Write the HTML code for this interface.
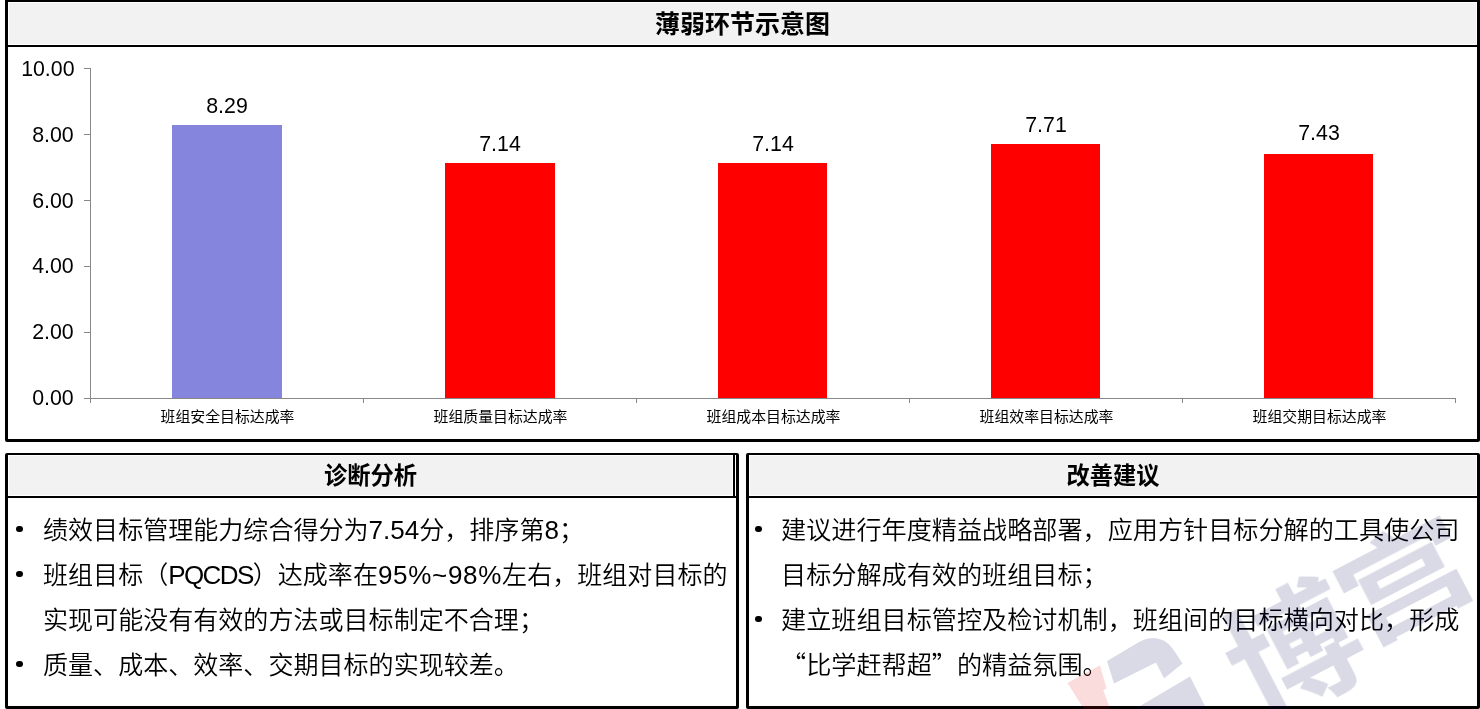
<!DOCTYPE html>
<html lang="zh-CN">
<head>
<meta charset="utf-8">
<title>薄弱环节示意图</title>
<style>
*{margin:0;padding:0;box-sizing:border-box}
html,body{width:1480px;height:709px;background:#fff;overflow:hidden}
body{position:relative;-webkit-font-smoothing:antialiased;font-family:"Liberation Sans","Noto Sans CJK SC",sans-serif;color:#000}
.box{position:absolute;border:3px solid #000;border-radius:2px;background:#fff}
#chart{left:5px;top:-1px;width:1475px;height:443px}
#diag{left:5px;top:453px;width:734px;height:256px;border-top-width:2px}
#sugg{left:746px;top:453px;width:734px;height:256px;border-top-width:2px}
.hd{position:absolute;background:#f2f2f2}
.hl{position:absolute;background:#000;height:2px}
.ttl{position:absolute;left:0;right:0;text-align:center;font-family:"Liberation Sans","Noto Sans CJK SC",sans-serif;font-weight:700;white-space:nowrap}
.ln{position:absolute;white-space:nowrap;font-family:"Liberation Sans","Noto Sans CJK SC",sans-serif;font-size:25.13px;line-height:36px;font-weight:350}
.q{font-family:"Noto Sans CJK SC",sans-serif;line-height:0}
.lt{font-size:26px;line-height:0}
.bul{position:absolute;width:6.6px;height:6.6px;border-radius:50%;background:#000}
svg{position:absolute;left:0;top:0}
.ln,.ttl,svg text{will-change:transform}
.yl,.vl{font-family:"Liberation Sans",Arial,sans-serif;font-size:21.33px;fill:#000}
.cl{font-family:"Liberation Sans","Noto Sans CJK SC",sans-serif;font-size:14.9px;fill:#000}
</style>
</head>
<body>
<div class="box" id="chart">
  <div class="hd" style="left:1px;top:1px;width:1467px;height:41px"></div>
  <div class="hl" style="left:0;top:43px;width:1469px"></div>
  <div class="ttl" style="top:5px;font-size:25px;line-height:34px">薄弱环节示意图</div>
</div>

<div class="box" id="diag">
  <div class="hd" style="left:1px;top:1px;width:723px;height:39px"></div>
  <div class="hl" style="left:0;top:41px;width:728px"></div>
</div>

<div class="box" id="sugg">
  <div class="hd" style="left:1px;top:1px;width:726px;height:39px"></div>
  <div class="hl" style="left:0;top:41px;width:728px"></div>
</div>


<div class="ttl" style="left:8px;width:725px;top:459px;font-size:23.3px;line-height:34px">诊断分析</div>
<div class="ttl" style="left:749px;width:728px;top:459px;font-size:23.3px;line-height:34px">改善建议</div>
<div style="position:absolute;left:733px;top:455px;width:2px;height:43px;background:#000"></div>

<div class="bul" style="left:16.3px;top:525.7px"></div>
<div class="ln" style="font-size:25.05px;left:42.5px;top:512px">绩效目标管理能力综合得分为<span class="lt">7.54</span>分，排序第<span class="lt">8</span>；</div>
<div class="bul" style="left:16.3px;top:570.7px"></div>
<div class="ln" style="font-size:25.05px;left:42.5px;top:557px">班组目标（<span class="lt" style="letter-spacing:-1.6px">PQCDS</span>）达成率在<span class="lt" style="letter-spacing:0.7px">95%~98%</span>左右，班组对目标的</div>
<div class="ln" style="font-size:25.05px;left:42.5px;top:602px">实现可能没有有效的方法或目标制定不合理；</div>
<div class="bul" style="left:16.3px;top:660.7px"></div>
<div class="ln" style="font-size:25.05px;left:42.5px;top:647px">质量、成本、效率、交期目标的实现较差。</div>

<div class="bul" style="left:755.2px;top:525.7px"></div>
<div class="ln" style="left:781.4px;top:512px">建议进行年度精益战略部署，应用方针目标分解的工具使公司</div>
<div class="ln" style="left:781.4px;top:557px">目标分解成有效的班组目标；</div>
<div class="bul" style="left:755.2px;top:615.7px"></div>
<div class="ln" style="left:781.4px;top:602px">建立班组目标管控及检讨机制，班组间的目标横向对比，形成</div>
<div class="ln" style="left:781.4px;top:647px"><span class="q">“</span>比学赶帮超<span class="q">”</span>的精益氛围。</div>

<svg width="1480" height="709" viewBox="0 0 1480 709">
<rect x="172" y="125" width="110" height="273" fill="#8585DD"/>
<rect x="445" y="163" width="110" height="235" fill="#FF0000"/>
<rect x="718" y="163" width="109" height="235" fill="#FF0000"/>
<rect x="991" y="144" width="109" height="254" fill="#FF0000"/>
<rect x="1264" y="154" width="109" height="244" fill="#FF0000"/>
<path d="M90.5 68V403M84 398.5H1455" stroke="#888888" stroke-width="1" fill="none"/>
<path d="M84 68.5H90M84 134.5H90M84 200.5H90M84 266.5H90M84 332.5H90" stroke="#888888" stroke-width="1" fill="none"/>
<path d="M363.5 398V403M636.5 398V403M909.5 398V403M1182.5 398V403M1455.5 398V403" stroke="#888888" stroke-width="1" fill="none"/>
<text x="73.7" y="405" text-anchor="end" class="yl">0.00</text>
<text x="73.7" y="339.2" text-anchor="end" class="yl">2.00</text>
<text x="73.7" y="273.4" text-anchor="end" class="yl">4.00</text>
<text x="73.7" y="207.6" text-anchor="end" class="yl">6.00</text>
<text x="73.7" y="141.8" text-anchor="end" class="yl">8.00</text>
<text x="74.5" y="76" text-anchor="end" class="yl">10.00</text>
<text x="227" y="112.5" text-anchor="middle" class="vl">8.29</text>
<text x="500" y="150.5" text-anchor="middle" class="vl">7.14</text>
<text x="773" y="150.5" text-anchor="middle" class="vl">7.14</text>
<text x="1046" y="131.5" text-anchor="middle" class="vl">7.71</text>
<text x="1319" y="140" text-anchor="middle" class="vl">7.43</text>
<text x="227.5" y="422" text-anchor="middle" class="cl">班组安全目标达成率</text>
<text x="500.5" y="422" text-anchor="middle" class="cl">班组质量目标达成率</text>
<text x="773.5" y="422" text-anchor="middle" class="cl">班组成本目标达成率</text>
<text x="1046.5" y="422" text-anchor="middle" class="cl">班组效率目标达成率</text>
<text x="1319.5" y="422" text-anchor="middle" class="cl">班组交期目标达成率</text>
</svg>

<svg id="wm" width="1480" height="709" viewBox="0 0 1480 709" style="position:absolute;left:0;top:0;pointer-events:none">
<g fill="rgb(10,10,90)" fill-opacity="0.15">
<path d="M1107 661L1140 641.5Q1160 632 1173 649L1182.5 663.5L1164 678.5L1156 662.5L1114 683.5Z"/>
<path d="M1135 709L1190 676.5L1206.5 709Z"/>
<g transform="translate(1290 643) rotate(-27.5)" style="font-family:'Noto Sans CJK SC',sans-serif;font-weight:700">
<text x="0" y="0" text-anchor="middle" dominant-baseline="central" font-size="132">博</text>
<text x="0" y="0" text-anchor="middle" dominant-baseline="central" font-size="108" transform="translate(130.8 -10.1) scale(1.3 1)">宫</text>
</g>
</g>
<path d="M1067.5 683L1100 665.2L1106.5 688.4L1103.3 690.3L1110.2 709L1083.9 709Z" fill="rgb(230,20,30)" fill-opacity="0.15"/>
</svg>
</body>
</html>
